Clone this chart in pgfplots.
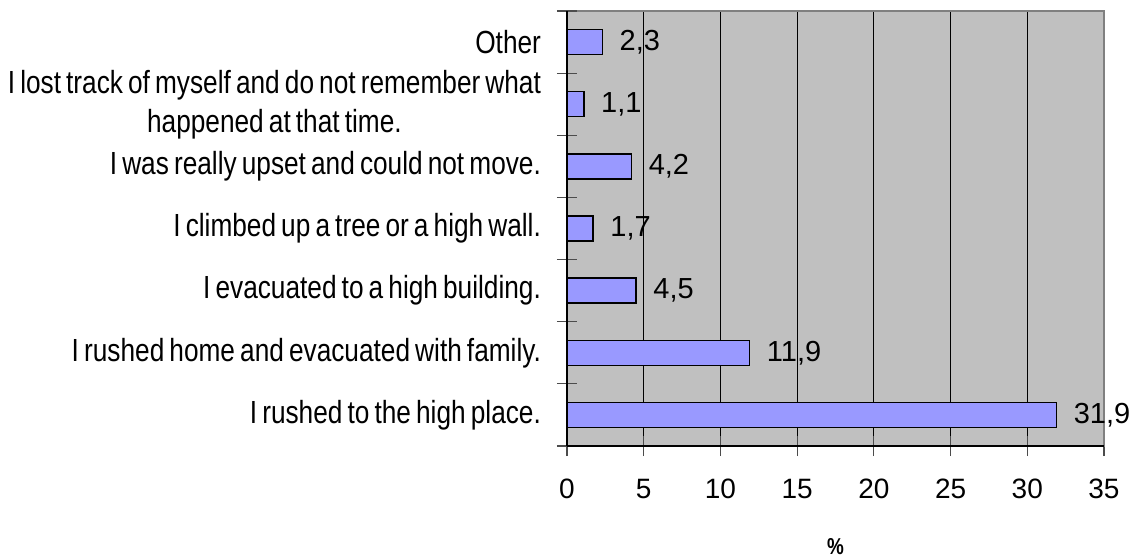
\documentclass[border=0pt]{standalone}
\usepackage{fontspec}
\setmainfont{Liberation Sans}
\newfontfamily\narrowfont[FakeStretch=0.82,WordSpace=0.7]{Liberation Sans}
\usepackage{pgfplots}
\pgfplotsset{compat=1.18}
\definecolor{barblue}{HTML}{9999FF}
\definecolor{plotgray}{HTML}{C0C0C0}
\definecolor{bordergray}{HTML}{808080}

\begin{document}
\begin{tikzpicture}
\useasboundingbox (-283.5pt,-55.5pt) rectangle (283pt,223pt);
\begin{axis}[
    at={(0,0)}, anchor=south west,
    scale only axis,
    width=268.5pt, height=217.5pt,
    xbar, bar width=12.5pt,
    xmin=0, xmax=35, ymin=-0.5, ymax=6.5,
    xtick={0,5,...,35},
    ytick={0,...,6},
    yticklabels={
      I rushed to the high place.,
      I rushed home and evacuated with family.,
      I evacuated to a high building.,
      I climbed up a tree or a high wall.,
      I was really upset and could not move.,
      {I lost track of myself and do not remember what\\happened at that time.},
      Other},
    xmajorgrids=true,
    major grid style={black, line width=0.5pt},
    axis background/.style={fill=plotgray},
    axis line style={bordergray, line width=1pt},
    tick style={black!70, line width=0.6pt},
    tick align=center,
    major tick length=10pt,
    xtick pos=bottom, ytick pos=left,
    y tick style={draw=none},
    extra y ticks={-0.5,0.5,...,6.5},
    extra y tick labels={},
    extra y tick style={y tick style={draw=black!70}},
    yticklabel style={font=\narrowfont\fontsize{16}{19.5}\selectfont, align=center, xshift=-4.5pt},
    xticklabel style={font=\fontsize{14}{16}\selectfont, yshift=-8pt},
    /pgf/number format/assume math mode=true,
    xlabel={\narrowfont\bfseries\fontsize{11.5}{12}\selectfont\%},
    xlabel style={yshift=-13pt},
    nodes near coords={\pgfmathprintnumber[fixed,fixed zerofill,precision=1,use comma,assume math mode=true]{\pgfplotspointmeta}},
    every node near coord/.append style={font=\fontsize{14.5}{16}\selectfont, black, xshift=5pt},
  ]
  \addplot[fill=barblue, draw=black, line width=0.7pt] coordinates {
    (31.9,0) (11.9,1) (4.5,2) (1.7,3) (4.2,4) (1.1,5) (2.3,6)};
\end{axis}
\draw[black, line width=0.7pt] (0,0) -- (0,217.5pt);
\draw[black, line width=0.7pt] (0,0) -- (268.5pt,0);
\end{tikzpicture}
\end{document}
